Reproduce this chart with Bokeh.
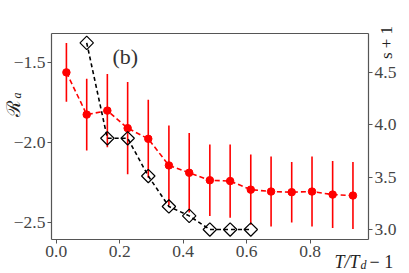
import numpy as np
from bokeh.plotting import figure
from bokeh.models import Range1d, LinearAxis, Label, ColumnDataSource, CustomJSTickFormatter, FixedTicker
from bokeh.embed import file_html
from bokeh.resources import INLINE

# ---- data ----
T_red = [0.032, 0.096, 0.161, 0.225, 0.29, 0.355, 0.419, 0.484, 0.548, 0.613, 0.677, 0.742, 0.806, 0.871, 0.935]
Ra = [-1.56, -1.825, -1.80, -1.91, -1.977, -2.144, -2.19, -2.237, -2.242, -2.296, -2.308, -2.312, -2.308, -2.327, -2.333]
Ra_err = [0.185, 0.225, 0.23, 0.29, 0.245, 0.25, 0.25, 0.225, 0.23, 0.22, 0.22, 0.19, 0.22, 0.21, 0.21]
T_blk = [0.096, 0.161, 0.225, 0.29, 0.355, 0.419, 0.484, 0.548, 0.613]
s1 = [4.78, 3.87, 3.87, 3.51, 3.22, 3.13, 3.0, 3.0, 3.0]
x_ticks = [0.0, 0.2, 0.4, 0.6, 0.8]
left_ticks = [-2.5, -2.0, -1.5]
right_ticks = [3.0, 3.5, 4.0, 4.5]

# visible box limits (data)
X_LO, X_HI = -0.015, 0.984
Y_LO, Y_HI = -2.609, -1.316
S_LO, S_HI = 2.905, 4.869

FONT = "Liberation Serif"
TC = "#444444"
AX = "#555555"

# the frame spans the whole canvas; the box is drawn by axes at fixed locations
p = figure(width=409, height=273, output_backend="svg", toolbar_location=None,
           x_range=Range1d(-0.1757, 1.1132), y_range=Range1d(-2.8224, -1.1088),
           min_border_left=0, min_border_right=0, min_border_top=0, min_border_bottom=0)
p.extra_y_ranges = {"s": Range1d(2.5808, 5.1836)}
p.add_layout(LinearAxis(y_range_name="s"), "right")
p.add_layout(LinearAxis(), "above")

p.grid.visible = False
p.outline_line_color = None
p.background_fill_color = "white"
p.border_fill_color = "white"

fmt = CustomJSTickFormatter(code="return tick.toFixed(1).replace('-', '\u2212');")
xb, yl, yr, xt = p.below[0], p.left[0], p.right[0], p.above[0]
xb.fixed_location = Y_LO
xb.bounds = (X_LO, X_HI)
yl.fixed_location = X_LO
yl.bounds = (Y_LO, Y_HI)
yr.fixed_location = X_HI
yr.bounds = (S_LO, S_HI)
xt.fixed_location = Y_HI
xt.bounds = (X_LO, X_HI)

for ax, ticks in [(xb, x_ticks), (yl, left_ticks), (yr, right_ticks), (xt, [])]:
    ax.ticker = FixedTicker(ticks=ticks)
    ax.formatter = fmt
    ax.minor_tick_line_color = None
    ax.major_tick_out = 4
    ax.major_tick_in = 0
    ax.major_tick_line_color = AX
    ax.axis_line_color = AX
    ax.axis_line_width = 1.2
    ax.major_label_text_font = FONT
    ax.major_label_text_font_size = "17.5px"
    ax.major_label_text_color = TC
    ax.major_label_standoff = 2

# red series with error bars
src = ColumnDataSource(dict(x=T_red, y=Ra,
                            lo=[a - e for a, e in zip(Ra, Ra_err)],
                            hi=[a + e for a, e in zip(Ra, Ra_err)]))
p.segment(x0="x", y0="lo", x1="x", y1="hi", source=src, line_color="red", line_width=1.6)
p.line("x", "y", source=src, line_color="red", line_width=1.6, line_dash="5 3")
p.scatter("x", "y", source=src, size=7.5, color="red")

# black series on right axis
p.line(T_blk, s1, y_range_name="s", line_color="black", line_width=1.6, line_dash="4 3")
p.scatter(T_blk, s1, y_range_name="s", marker="square", angle=np.pi / 4, size=9.5,
          fill_alpha=0, line_color="black", line_width=1.2)

# labels (screen units, from bottom-left of canvas)
def slab(x, y, t, size, **kw):
    p.add_layout(Label(x=x, y=y, x_units="screen", y_units="screen", text=t, text_font=FONT,
                       text_font_size=size, text_color=kw.pop("color", "#222222"), **kw))

slab(112, 216.6, "(b)", "22px", text_baseline="middle", text_align="left", color="#333333")
slab(12.5, 165.5, "\u211b", "19px", angle=np.pi / 2, text_align="center", text_baseline="middle")
slab(16, 178, "a", "12px", text_font_style="italic", angle=np.pi / 2, text_align="center", text_baseline="middle")
slab(386, 231, "s + 1", "17px", angle=np.pi / 2, text_align="center", text_baseline="middle")
slab(334, 12, "T/T", "18px", text_font_style="italic", text_align="left", text_baseline="alphabetic")
slab(360, 9, "d", "12px", text_font_style="italic", text_align="left", text_baseline="alphabetic")
slab(369, 12, "\u2212 1", "18px", text_align="left", text_baseline="alphabetic")

open("out.html", "w").write(file_html(p, INLINE))
